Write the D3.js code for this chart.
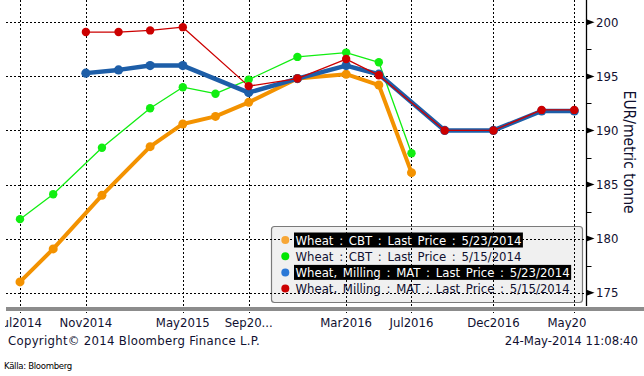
<!DOCTYPE html>
<html>

<head>
    <meta charset="utf-8">
    <script src="https://d3js.org/d3.v7.min.js"></script>
    <style>
        body { margin: 0; background: #fff; }
        svg text {
            font-family: "DejaVu Sans Condensed", "DejaVu Sans", sans-serif;
        }
    </style>
</head>

<body>
    <div id="chart"></div>
    <script>
        // contract months and prices (EUR/metric tonne)
        const cbtMonths = ["2014-07", "2014-09", "2014-12", "2015-03", "2015-05", "2015-07", "2015-09", "2015-12", "2016-03", "2016-05", "2016-07"];
        const cbt0523 = [176.0, 179.05, 184.0, 188.5, 190.6, 191.3, 192.6, 194.8, 195.2, 194.2, 186.1];
        const cbt0515 = [181.8, 184.1, 188.4, 192.05, 194.0, 193.4, 194.7, 196.8, 197.2, 196.3, 187.9];

        const matMonths = ["2014-11", "2015-01", "2015-03", "2015-05", "2015-09", "2015-12", "2016-03", "2016-05", "2016-09", "2016-12", "2017-03", "2017-05"];
        const mat0523 = [195.3, 195.6, 196.0, 196.0, 193.5, 194.8, 196.0, 195.2, 190.0, 190.0, 191.8, 191.8];
        const mat0515 = [199.1, 199.1, 199.25, 199.55, 194.1, 194.8, 196.6, 195.1, 190.0, 190.0, 191.9, 191.9];

        const tickMonths = ["2014-07", "2014-11", "2015-05", "2015-09", "2016-03", "2016-07", "2016-12", "2017-05"];
        const tickLabels = ["Jul2014", "Nov2014", "May2015", "Sep20...", "Mar2016", "Jul2016", "Dec2016", "May20"];
        const yTicks = [175, 180, 185, 190, 195, 200];
        const yMinor = [177.5, 182.5, 187.5, 192.5, 197.5];

        const legendNames = [
            "Wheat : CBT : Last Price : 5/23/2014",
            "Wheat : CBT : Last Price : 5/15/2014",
            "Wheat, Milling : MAT : Last Price : 5/23/2014",
            "Wheat, Milling : MAT : Last Price : 5/15/2014"
        ];

        const width = 644, height = 376;
        const plotLeft = 6, axisX = 586.5, plotBottom = 306;
        const parse = d3.timeParse("%Y-%m");

        const svg = d3.select("#chart").append("svg")
            .attr("width", width)
            .attr("height", height);

        const x = d3.scaleTime()
            .domain([parse("2014-07"), parse("2017-05")])
            .range([20, 574.3]);
        const y = d3.scaleLinear()
            .domain([175, 200])
            .range([292.7, 22.3]);

        svg.append("clipPath").attr("id", "clip")
            .append("rect").attr("x", 5).attr("y", 0).attr("width", axisX - 5).attr("height", height);

        // legend box (under the grid, as in the original)
        const lg = { x: 271.5, y: 226.5, w: 311, h: 76 };
        svg.append("rect")
            .attr("x", lg.x).attr("y", lg.y)
            .attr("width", lg.w).attr("height", lg.h)
            .attr("rx", 3)
            .attr("fill", "#f0f0f0")
            .attr("stroke", "#7a7a7a")
            .attr("stroke-width", 1.2);

        // grid
        svg.append("g").selectAll("line")
            .data(yTicks)
            .join("line")
            .attr("x1", plotLeft).attr("x2", axisX)
            .attr("y1", d => Math.round(y(d)) + 0.5).attr("y2", d => Math.round(y(d)) + 0.5)
            .attr("stroke", "#000").attr("stroke-dasharray", "2,2");

        svg.append("g").selectAll("line")
            .data(tickMonths)
            .join("line")
            .attr("x1", d => Math.round(x(parse(d))) + 0.5).attr("x2", d => Math.round(x(parse(d))) + 0.5)
            .attr("y1", 0).attr("y2", 313)
            .attr("stroke", "#000").attr("stroke-dasharray", "2,2");

        // bottom bar
        svg.append("rect")
            .attr("x", plotLeft).attr("y", 307)
            .attr("width", width - plotLeft).attr("height", 4)
            .attr("fill", "#8c8c8c");

        // right axis
        svg.append("line")
            .attr("x1", axisX).attr("x2", axisX)
            .attr("y1", 0).attr("y2", plotBottom)
            .attr("stroke", "#000").attr("stroke-width", 1.3);

        svg.append("g").selectAll("line")
            .data(yMinor)
            .join("line")
            .attr("x1", axisX).attr("x2", axisX + 5)
            .attr("y1", d => Math.round(y(d)) + 0.5).attr("y2", d => Math.round(y(d)) + 0.5)
            .attr("stroke", "#000");

        svg.append("g").selectAll("path")
            .data(yTicks)
            .join("path")
            .attr("d", d => `M${axisX},${y(d) - 3}L${axisX + 8},${y(d)}L${axisX},${y(d) + 3}Z`)
            .attr("fill", "#000");

        svg.append("g").selectAll("text")
            .data(yTicks)
            .join("text")
            .attr("x", 596)
            .attr("y", d => y(d))
            .attr("dy", "0.36em")
            .attr("font-size", 13)
            .attr("fill", "#101030")
            .text(d => d);

        svg.append("text")
            .attr("transform", `translate(624, ${y(188)}) rotate(90)`)
            .attr("text-anchor", "middle")
            .attr("font-size", 15.5)
            .attr("fill", "#101030")
            .text("EUR/metric tonne");

        // x labels
        svg.append("g").attr("clip-path", "url(#clip)")
            .selectAll("text")
            .data(tickMonths)
            .join("text")
            .attr("x", (d, i) => i === tickMonths.length - 1 ? axisX : x(parse(d)))
            .attr("y", 322)
            .attr("dy", "0.36em")
            .attr("text-anchor", (d, i) => i === tickMonths.length - 1 ? "end" : "middle")
            .attr("font-size", 13)
            .attr("fill", "#101030")
            .text((d, i) => tickLabels[i]);

        // series
        const series = [
            { months: cbtMonths, values: cbt0523, color: "#f39200", lw: 4, r: 4.5 },
            { months: cbtMonths, values: cbt0515, color: "#11ee11", lw: 1.3, r: 4.2 },
            { months: matMonths, values: mat0523, color: "#1d5ea8", lw: 4.5, r: 4.6 },
            { months: matMonths, values: mat0515, color: "#cc0000", lw: 1.3, r: 4.2 }
        ];
        const legendColors = ["#f7a635", "#00e600", "#2a78d6", "#cc0000"];

        const line = d3.line()
            .x(d => x(d.date))
            .y(d => y(d.v));

        series.forEach(s => {
            const pts = s.months.map((m, i) => ({ date: parse(m), v: s.values[i] }));
            svg.append("path")
                .datum(pts)
                .attr("fill", "none")
                .attr("stroke", s.color)
                .attr("stroke-width", s.lw)
                .attr("stroke-linejoin", "round")
                .attr("d", line);
            svg.append("g").selectAll("circle")
                .data(pts)
                .join("circle")
                .attr("cx", d => x(d.date))
                .attr("cy", d => y(d.v))
                .attr("r", s.r)
                .attr("fill", s.color);
        });

        // legend entries
        const rows = svg.append("g").selectAll("g")
            .data(legendNames)
            .join("g")
            .attr("transform", (d, i) => `translate(0, ${240 + i * 16.2})`);

        rows.append("circle")
            .attr("cx", 285.3).attr("cy", 0).attr("r", 4)
            .attr("fill", (d, i) => legendColors[i]);

        rows.each(function (d, i) {
            const g = d3.select(this);
            const bg = g.append("rect");
            const t = g.append("text")
                .attr("x", 295.5)
                .attr("dy", "0.36em")
                .attr("font-size", 13)
                .attr("word-spacing", 2)
                .attr("fill", i % 2 === 0 ? "#ffffff" : "#101030")
                .text(d);
            if (i % 2 === 0) {
                const w = t.node().getBBox().width;
                bg.attr("x", 294).attr("y", -7.5)
                    .attr("width", w + 3).attr("height", 15)
                    .attr("fill", "#000");
            }
        });

        // footer
        svg.append("text")
            .attr("x", 8).attr("y", 340).attr("dy", "0.36em")
            .attr("font-size", 13).attr("fill", "#101030")
            .attr("letter-spacing", 0.3)
            .text("Copyright© 2014 Bloomberg Finance L.P.");

        svg.append("text")
            .attr("x", 638).attr("y", 340).attr("dy", "0.36em")
            .attr("text-anchor", "end")
            .attr("font-size", 13).attr("fill", "#101030")
            .text("24-May-2014 11:08:40");

        svg.append("text")
            .attr("x", 4).attr("y", 366).attr("dy", "0.36em")
            .attr("font-family", "Liberation Sans, Arial, sans-serif")
            .attr("font-size", 9.5).attr("fill", "#000")
            .attr("letter-spacing", -0.3)
            .text("Källa: Bloomberg");
    </script>
</body>

</html>
